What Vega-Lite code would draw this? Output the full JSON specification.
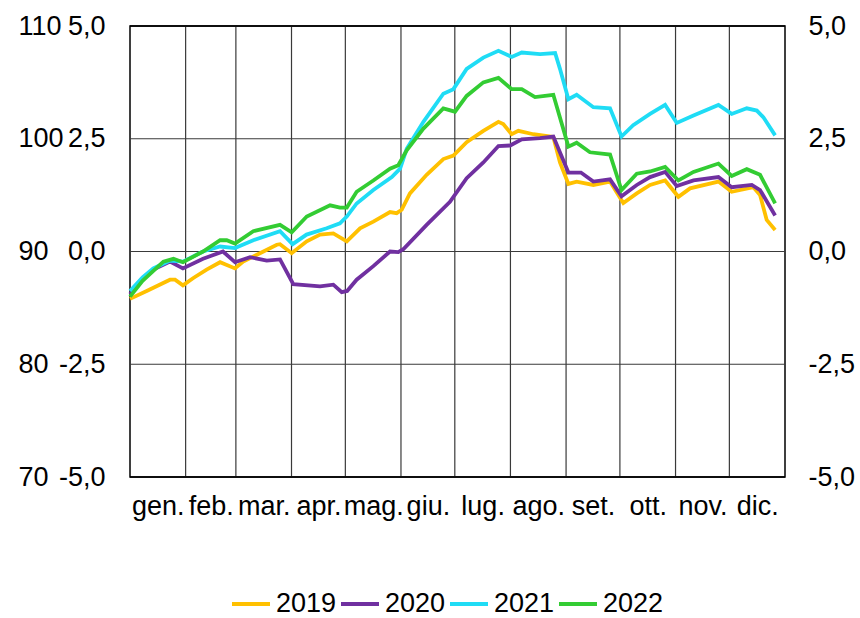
{
  "$schema": "https://vega.github.io/schema/vega-lite/v6.json",
  "width": 655,
  "height": 451,
  "padding": {"left": 18, "top": 12, "right": 5, "bottom": 5},
  "autosize": {"type": "pad"},
  "background": "white",
  "config": {
    "font": "Liberation Sans",
    "view": {"stroke": "#000000", "strokeWidth": 1.5},
    "axis": {"labelFont": "Liberation Sans", "labelFontSize": 27, "labelColor": "#000000", "domain": false, "ticks": false, "grid": false, "title": null, "labelOverlap": false, "labelFlush": false},
    "legend": {"labelFont": "Liberation Sans", "labelFontSize": 27, "labelColor": "#000000"}
  },
  "datasets": {
    "series": [
      {"year": "2019", "day": 0, "value": 85.8},
      {"year": "2019", "day": 9.3, "value": 86.5},
      {"year": "2019", "day": 22.3, "value": 87.5},
      {"year": "2019", "day": 25.1, "value": 87.5},
      {"year": "2019", "day": 29.5, "value": 87.0},
      {"year": "2019", "day": 35.3, "value": 87.65},
      {"year": "2019", "day": 42.7, "value": 88.4},
      {"year": "2019", "day": 50.2, "value": 89.05},
      {"year": "2019", "day": 58.5, "value": 88.5},
      {"year": "2019", "day": 63.1, "value": 89.1},
      {"year": "2019", "day": 72.4, "value": 89.85},
      {"year": "2019", "day": 81.8, "value": 90.6},
      {"year": "2019", "day": 83.6, "value": 90.65},
      {"year": "2019", "day": 90.1, "value": 89.85},
      {"year": "2019", "day": 98.5, "value": 90.9},
      {"year": "2019", "day": 105.9, "value": 91.5},
      {"year": "2019", "day": 113.3, "value": 91.6},
      {"year": "2019", "day": 120.8, "value": 90.9},
      {"year": "2019", "day": 128.2, "value": 92.06},
      {"year": "2019", "day": 135.6, "value": 92.65},
      {"year": "2019", "day": 144.9, "value": 93.5},
      {"year": "2019", "day": 148.6, "value": 93.4},
      {"year": "2019", "day": 151.4, "value": 93.7},
      {"year": "2019", "day": 156.0, "value": 95.15},
      {"year": "2019", "day": 165.3, "value": 96.8},
      {"year": "2019", "day": 174.6, "value": 98.2},
      {"year": "2019", "day": 180.2, "value": 98.5},
      {"year": "2019", "day": 187.6, "value": 99.7},
      {"year": "2019", "day": 196.9, "value": 100.7},
      {"year": "2019", "day": 205.3, "value": 101.5},
      {"year": "2019", "day": 208.0, "value": 101.3},
      {"year": "2019", "day": 212.7, "value": 100.4},
      {"year": "2019", "day": 216.4, "value": 100.7},
      {"year": "2019", "day": 224.8, "value": 100.4},
      {"year": "2019", "day": 235.9, "value": 100.15},
      {"year": "2019", "day": 239.6, "value": 97.9},
      {"year": "2019", "day": 244.3, "value": 96.0},
      {"year": "2019", "day": 248.9, "value": 96.2},
      {"year": "2019", "day": 258.2, "value": 95.9},
      {"year": "2019", "day": 267.5, "value": 96.2},
      {"year": "2019", "day": 274.9, "value": 94.3},
      {"year": "2019", "day": 282.4, "value": 95.15},
      {"year": "2019", "day": 289.8, "value": 95.9},
      {"year": "2019", "day": 298.2, "value": 96.3},
      {"year": "2019", "day": 305.6, "value": 94.85},
      {"year": "2019", "day": 312.1, "value": 95.6},
      {"year": "2019", "day": 327.9, "value": 96.2},
      {"year": "2019", "day": 335.3, "value": 95.3},
      {"year": "2019", "day": 347.4, "value": 95.7},
      {"year": "2019", "day": 351.1, "value": 95.0},
      {"year": "2019", "day": 354.8, "value": 92.8},
      {"year": "2019", "day": 359.5, "value": 91.9},

      {"year": "2020", "day": 0, "value": 86.2},
      {"year": "2020", "day": 7, "value": 87.5},
      {"year": "2020", "day": 13, "value": 88.4},
      {"year": "2020", "day": 22.3, "value": 89.1},
      {"year": "2020", "day": 29.5, "value": 88.5},
      {"year": "2020", "day": 40.7, "value": 89.35},
      {"year": "2020", "day": 51.8, "value": 90.0},
      {"year": "2020", "day": 58.5, "value": 89.05},
      {"year": "2020", "day": 66.9, "value": 89.5},
      {"year": "2020", "day": 76.2, "value": 89.2},
      {"year": "2020", "day": 83.6, "value": 89.3},
      {"year": "2020", "day": 91.0, "value": 87.1},
      {"year": "2020", "day": 105.9, "value": 86.9},
      {"year": "2020", "day": 113.3, "value": 87.06},
      {"year": "2020", "day": 118.0, "value": 86.4},
      {"year": "2020", "day": 121.0, "value": 86.5},
      {"year": "2020", "day": 126.3, "value": 87.5},
      {"year": "2020", "day": 135.6, "value": 88.7},
      {"year": "2020", "day": 144.9, "value": 90.0},
      {"year": "2020", "day": 149.5, "value": 89.94},
      {"year": "2020", "day": 152.3, "value": 90.2},
      {"year": "2020", "day": 165.3, "value": 92.36},
      {"year": "2020", "day": 178.3, "value": 94.4},
      {"year": "2020", "day": 187.6, "value": 96.5},
      {"year": "2020", "day": 196.9, "value": 97.9},
      {"year": "2020", "day": 205.3, "value": 99.35},
      {"year": "2020", "day": 211.8, "value": 99.4},
      {"year": "2020", "day": 218.3, "value": 99.94},
      {"year": "2020", "day": 228.5, "value": 100.05},
      {"year": "2020", "day": 235.9, "value": 100.2},
      {"year": "2020", "day": 244.3, "value": 97.0},
      {"year": "2020", "day": 251.3, "value": 97.0},
      {"year": "2020", "day": 258.2, "value": 96.2},
      {"year": "2020", "day": 267.5, "value": 96.4},
      {"year": "2020", "day": 273.9, "value": 94.9},
      {"year": "2020", "day": 282.4, "value": 95.9},
      {"year": "2020", "day": 289.8, "value": 96.6},
      {"year": "2020", "day": 298.2, "value": 97.06},
      {"year": "2020", "day": 304.7, "value": 95.8},
      {"year": "2020", "day": 314.0, "value": 96.3},
      {"year": "2020", "day": 327.9, "value": 96.6},
      {"year": "2020", "day": 335.3, "value": 95.7},
      {"year": "2020", "day": 346.5, "value": 95.9},
      {"year": "2020", "day": 351.1, "value": 95.45},
      {"year": "2020", "day": 359.5, "value": 93.2},

      {"year": "2021", "day": 0, "value": 86.5},
      {"year": "2021", "day": 7, "value": 87.7},
      {"year": "2021", "day": 13, "value": 88.5},
      {"year": "2021", "day": 22.3, "value": 89.2},
      {"year": "2021", "day": 29.5, "value": 89.1},
      {"year": "2021", "day": 40.7, "value": 90.0},
      {"year": "2021", "day": 50.2, "value": 90.44},
      {"year": "2021", "day": 58.5, "value": 90.3},
      {"year": "2021", "day": 68.7, "value": 91.0},
      {"year": "2021", "day": 83.6, "value": 91.8},
      {"year": "2021", "day": 90.6, "value": 90.65},
      {"year": "2021", "day": 98.4, "value": 91.5},
      {"year": "2021", "day": 109.6, "value": 92.06},
      {"year": "2021", "day": 117.0, "value": 92.5},
      {"year": "2021", "day": 120.8, "value": 93.1},
      {"year": "2021", "day": 126.3, "value": 94.26},
      {"year": "2021", "day": 135.6, "value": 95.45},
      {"year": "2021", "day": 145.9, "value": 96.6},
      {"year": "2021", "day": 150.5, "value": 97.35},
      {"year": "2021", "day": 154.2, "value": 99.1},
      {"year": "2021", "day": 163.5, "value": 101.5},
      {"year": "2021", "day": 174.6, "value": 104.0},
      {"year": "2021", "day": 180.2, "value": 104.4},
      {"year": "2021", "day": 187.6, "value": 106.2},
      {"year": "2021", "day": 196.9, "value": 107.2},
      {"year": "2021", "day": 205.3, "value": 107.8},
      {"year": "2021", "day": 212.7, "value": 107.26},
      {"year": "2021", "day": 218.3, "value": 107.65},
      {"year": "2021", "day": 228.5, "value": 107.5},
      {"year": "2021", "day": 236.9, "value": 107.6},
      {"year": "2021", "day": 239.6, "value": 106.2},
      {"year": "2021", "day": 244.3, "value": 103.5},
      {"year": "2021", "day": 248.9, "value": 103.9},
      {"year": "2021", "day": 258.2, "value": 102.8},
      {"year": "2021", "day": 267.5, "value": 102.7},
      {"year": "2021", "day": 273.9, "value": 100.2},
      {"year": "2021", "day": 280.4, "value": 101.2},
      {"year": "2021", "day": 289.8, "value": 102.2},
      {"year": "2021", "day": 298.2, "value": 103.0},
      {"year": "2021", "day": 304.7, "value": 101.4},
      {"year": "2021", "day": 314.0, "value": 102.06},
      {"year": "2021", "day": 327.9, "value": 103.0},
      {"year": "2021", "day": 335.3, "value": 102.2},
      {"year": "2021", "day": 343.7, "value": 102.7},
      {"year": "2021", "day": 349.3, "value": 102.5},
      {"year": "2021", "day": 353.0, "value": 101.9},
      {"year": "2021", "day": 359.5, "value": 100.3},

      {"year": "2022", "day": 0, "value": 86.0},
      {"year": "2022", "day": 7, "value": 87.4},
      {"year": "2022", "day": 18.6, "value": 89.1},
      {"year": "2022", "day": 24.2, "value": 89.35},
      {"year": "2022", "day": 29.5, "value": 89.05},
      {"year": "2022", "day": 40.7, "value": 90.0},
      {"year": "2022", "day": 50.2, "value": 91.0},
      {"year": "2022", "day": 53.9, "value": 91.0},
      {"year": "2022", "day": 58.5, "value": 90.7},
      {"year": "2022", "day": 68.7, "value": 91.8},
      {"year": "2022", "day": 83.6, "value": 92.36},
      {"year": "2022", "day": 90.1, "value": 91.7},
      {"year": "2022", "day": 98.5, "value": 93.1},
      {"year": "2022", "day": 111.5, "value": 94.1},
      {"year": "2022", "day": 117.0, "value": 93.9},
      {"year": "2022", "day": 120.8, "value": 93.9},
      {"year": "2022", "day": 126.3, "value": 95.3},
      {"year": "2022", "day": 135.6, "value": 96.3},
      {"year": "2022", "day": 144.9, "value": 97.35},
      {"year": "2022", "day": 149.5, "value": 97.65},
      {"year": "2022", "day": 154.2, "value": 98.97},
      {"year": "2022", "day": 163.5, "value": 100.9},
      {"year": "2022", "day": 174.6, "value": 102.7},
      {"year": "2022", "day": 181.1, "value": 102.4},
      {"year": "2022", "day": 187.6, "value": 103.8},
      {"year": "2022", "day": 196.9, "value": 105.0},
      {"year": "2022", "day": 205.3, "value": 105.4},
      {"year": "2022", "day": 212.7, "value": 104.4},
      {"year": "2022", "day": 218.3, "value": 104.4},
      {"year": "2022", "day": 225.7, "value": 103.7},
      {"year": "2022", "day": 235.9, "value": 103.9},
      {"year": "2022", "day": 244.3, "value": 99.3},
      {"year": "2022", "day": 248.9, "value": 99.65},
      {"year": "2022", "day": 256.3, "value": 98.8},
      {"year": "2022", "day": 267.5, "value": 98.6},
      {"year": "2022", "day": 273.9, "value": 95.45},
      {"year": "2022", "day": 282.4, "value": 96.9},
      {"year": "2022", "day": 289.8, "value": 97.1},
      {"year": "2022", "day": 298.2, "value": 97.5},
      {"year": "2022", "day": 305.6, "value": 96.3},
      {"year": "2022", "day": 314.0, "value": 97.06},
      {"year": "2022", "day": 327.9, "value": 97.8},
      {"year": "2022", "day": 335.3, "value": 96.7},
      {"year": "2022", "day": 343.7, "value": 97.3},
      {"year": "2022", "day": 351.1, "value": 96.8},
      {"year": "2022", "day": 359.5, "value": 94.26}
    ],
    "monthBounds": [
      {"day": 31}, {"day": 59}, {"day": 90}, {"day": 120}, {"day": 151}, {"day": 181},
      {"day": 212}, {"day": 243}, {"day": 273}, {"day": 304}, {"day": 334}
    ],
    "hgrid": [{"level": 80}, {"level": 90}, {"level": 100}],
    "hborder": [{"level": 70}, {"level": 110}]
  },
  "layer": [
    {
      "data": {"name": "hgrid"},
      "mark": {"type": "rule", "color": "#3a3a3a", "strokeWidth": 1.2},
      "encoding": {
        "y": {
          "field": "level", "type": "quantitative",
          "scale": {"domain": [70, 110], "nice": false, "zero": false},
          "axis": {
            "orient": "right", "values": [70, 80, 90, 100, 110],
            "labelAlign": "left", "labelPadding": 23,
            "labelExpr": "(datum.value < 90 ? '-' : '') + replace(format(abs(datum.value - 90) / 4, '.1f'), '.', ',')"
          }
        }
      }
    },
    {
      "data": {"name": "monthBounds"},
      "mark": {"type": "rule", "color": "#3a3a3a", "strokeWidth": 1.2},
      "encoding": {
        "x": {
          "field": "day", "type": "quantitative",
          "scale": {"domain": [0, 365], "nice": false, "zero": false},
          "axis": {
            "values": [15.5, 45, 74.5, 105, 135.5, 166, 196.5, 227.5, 258, 288.5, 319, 349.5],
            "labelPadding": 16,
            "labelExpr": "['gen.','feb.','mar.','apr.','mag.','giu.','lug.','ago.','set.','ott.','nov.','dic.'][floor(datum.value / 30.42)]"
          }
        }
      }
    },
    {
      "data": {"name": "hborder"},
      "mark": {"type": "rule", "color": "#000000", "strokeWidth": 1.5},
      "encoding": {
        "y": {
          "field": "level", "type": "quantitative",
          "scale": {"domain": [70, 110], "nice": false, "zero": false},
          "axis": {
            "orient": "left", "values": [70, 80, 90, 100, 110],
            "labelAlign": "left", "labelPadding": 112,
            "labelExpr": "format(datum.value, 'd')"
          }
        }
      }
    },
    {
      "data": {"name": "series"},
      "mark": {"type": "line", "strokeWidth": 3.8, "interpolate": "linear"},
      "encoding": {
        "x": {
          "field": "day", "type": "quantitative",
          "scale": {"domain": [0, 365], "nice": false, "zero": false},
          "axis": {
            "values": [15.5, 45, 74.5, 105, 135.5, 166, 196.5, 227.5, 258, 288.5, 319, 349.5],
            "labelPadding": 16,
            "labelExpr": "['gen.','feb.','mar.','apr.','mag.','giu.','lug.','ago.','set.','ott.','nov.','dic.'][floor(datum.value / 30.42)]"
          }
        },
        "y": {
          "field": "value", "type": "quantitative",
          "scale": {"domain": [70, 110], "nice": false, "zero": false},
          "axis": {
            "orient": "left", "values": [70, 80, 90, 100, 110],
            "labelAlign": "right", "labelPadding": 25,
            "labelExpr": "(datum.value < 90 ? '-' : '') + replace(format(abs(datum.value - 90) / 4, '.1f'), '.', ',')"
          }
        },
        "color": {
          "field": "year", "type": "nominal",
          "scale": {"domain": ["2019", "2020", "2021", "2022"], "range": ["#FFC000", "#7030A0", "#1FDCF5", "#33CC33"]},
          "legend": {
            "orient": "none", "legendX": 100, "legendY": 557, "direction": "horizontal", "title": null,
            "symbolType": "stroke", "symbolStrokeWidth": 4, "symbolSize": 1444,
            "labelOffset": 4, "columnPadding": -4, "padding": 0
          }
        }
      }
    }
  ],
  "resolve": {"axis": {"y": "independent"}}
}
